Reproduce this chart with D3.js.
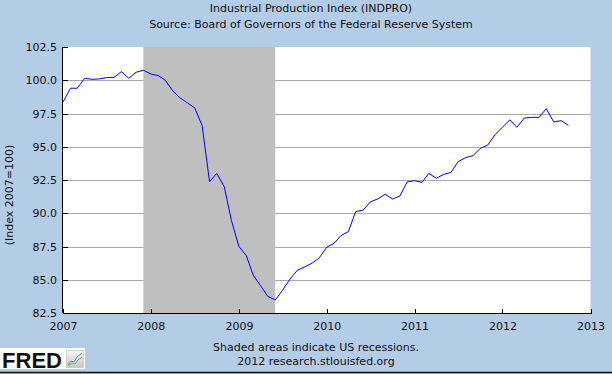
<!DOCTYPE html>
<html>
<head>
<meta charset="utf-8">
<script src="https://cdn.jsdelivr.net/npm/d3@7"></script>
<style>
  html, body { margin: 0; padding: 0; background: #b4cde6; }
  svg { display: block; }
  text { font-family: "DejaVu Sans", Verdana, sans-serif; fill: #111; }
</style>
</head>
<body>
<div id="chart"></div>
<script>
// Industrial Production Index, monthly, starting Jan 2007 (index 2007=100)
var firstMonth = "2007-01-01";
var indpro = [
  // 2007
  98.35, 99.4, 99.4, 100.15, 100.07, 100.1, 100.2, 100.22, 100.65, 100.15, 100.6, 100.75,
  // 2008
  100.47, 100.35, 100.0, 99.2, 98.68, 98.3, 97.93, 96.6, 92.37, 93.0, 92.0, 89.45,
  // 2009
  87.5, 86.8, 85.36, 84.55, 83.75, 83.48, 84.2, 85.05, 85.72, 85.97, 86.25, 86.65,
  // 2010
  87.45, 87.75, 88.32, 88.62, 90.12, 90.23, 90.85, 91.08, 91.43, 91.07, 91.3, 92.35,
  // 2011
  92.45, 92.32, 93.0, 92.63, 92.92, 93.07, 93.88, 94.18, 94.33, 94.88, 95.13, 95.9,
  // 2012
  96.47, 97.02, 96.46, 97.16, 97.21, 97.21, 97.86, 96.87, 96.96, 96.62
];
var recessions = [["2007-12-01", "2009-06-01"]];
var yTicks = [82.5, 85.0, 87.5, 90.0, 92.5, 95.0, 97.5, 100.0, 102.5];
var xYears = [2007, 2008, 2009, 2010, 2011, 2012, 2013];
var titleLines = ["Industrial Production Index (INDPRO)", "Source: Board of Governors of the Federal Reserve System"];
var yLabel = "(Index 2007=100)";
var footLines = ["Shaded areas indicate US recessions.", "2012 research.stlouisfed.org"];

var W = 612, H = 374;
var plot = {left: 63, right: 590.5, top: 47, bottom: 313};
var fontSize = "11px";

var parse = d3.timeParse("%Y-%m-%d");
var start = parse(firstMonth);
var series = indpro.map(function(v, i) {
  return {date: d3.timeMonth.offset(start, i), value: v};
});

var x = d3.scaleTime()
  .domain([new Date(xYears[0], 0, 1), new Date(xYears[xYears.length - 1], 0, 1)])
  .range([plot.left, plot.right]);
var y = d3.scaleLinear()
  .domain([yTicks[0], yTicks[yTicks.length - 1]])
  .range([plot.bottom, plot.top]);

var svg = d3.select("#chart").append("svg")
  .attr("width", W).attr("height", H);

svg.append("rect").attr("width", W).attr("height", H).attr("fill", "#b4cde6");

// titles
svg.selectAll("text.title").data(titleLines).enter().append("text")
  .attr("class", "title")
  .attr("x", 311).attr("y", function(d, i) { return 12 + i * 16; })
  .attr("text-anchor", "middle")
  .style("font-size", fontSize)
  .text(function(d) { return d; });

// plot background
svg.append("rect")
  .attr("x", plot.left).attr("y", plot.top)
  .attr("width", plot.right - plot.left).attr("height", plot.bottom - plot.top)
  .attr("fill", "#fff");

// gridlines
svg.append("g").selectAll("line").data(yTicks.slice(1, -1)).enter().append("line")
  .attr("x1", plot.left).attr("x2", plot.right)
  .attr("y1", function(d) { return Math.round(y(d)) + 0.5; })
  .attr("y2", function(d) { return Math.round(y(d)) + 0.5; })
  .attr("stroke", "#a8a8a8").attr("stroke-width", 1)
  .attr("shape-rendering", "crispEdges");

// recession shading
svg.append("g").selectAll("rect").data(recessions).enter().append("rect")
  .attr("x", function(d) { return x(parse(d[0])); })
  .attr("width", function(d) { return x(parse(d[1])) - x(parse(d[0])); })
  .attr("y", plot.top).attr("height", plot.bottom - plot.top)
  .attr("fill", "#bfbfbf");

// series line
var line = d3.line()
  .x(function(d) { return x(d.date); })
  .y(function(d) { return y(d.value); });

svg.append("path")
  .datum(series)
  .attr("d", line)
  .attr("fill", "none")
  .attr("stroke", "#0000ff")
  .attr("stroke-width", 1);

// axes
var yAxis = d3.axisLeft(y).tickValues(yTicks).tickSize(-5).tickPadding(5.5)
  .tickFormat(d3.format(".1f"));
var gy = svg.append("g")
  .attr("transform", "translate(" + (plot.left - 0.5) + ",0)")
  .call(yAxis);

var xAxis = d3.axisBottom(x)
  .tickValues(xYears.map(function(yr) { return new Date(yr, 0, 1); }))
  .tickSize(-5).tickPadding(9)
  .tickFormat(d3.timeFormat("%Y"));
var gx = svg.append("g")
  .attr("transform", "translate(0," + (plot.bottom + 0.5) + ")")
  .call(xAxis);

[gx, gy].forEach(function(g) {
  g.select(".domain").attr("stroke", "#000").attr("shape-rendering", "crispEdges");
  g.selectAll(".tick line").attr("stroke", "#000").attr("shape-rendering", "crispEdges");
  g.selectAll(".tick text")
    .style("font-family", "'DejaVu Sans', Verdana, sans-serif")
    .style("font-size", fontSize).attr("fill", "#111");
});
// drop the outer tick stubs of the domain paths
gx.select(".domain").attr("d", "M" + plot.left + ",0H" + plot.right);
gy.select(".domain").attr("d", "M0," + plot.bottom + "V" + plot.top);

// y-axis title
svg.append("text")
  .attr("transform", "translate(12.5,195) rotate(-90)")
  .attr("text-anchor", "middle")
  .style("font-size", fontSize)
  .text(yLabel);

// footer
svg.selectAll("text.foot").data(footLines).enter().append("text")
  .attr("class", "foot")
  .attr("x", 316).attr("y", function(d, i) { return 351 + i * 14; })
  .attr("text-anchor", "middle")
  .style("font-size", fontSize)
  .text(function(d) { return d; });

// FRED logo
var logo = svg.append("g");
logo.append("rect").attr("x", 0).attr("y", 348).attr("width", 85).attr("height", 21).attr("fill", "#fff");
logo.append("text")
  .attr("x", 2).attr("y", 367.5)
  .style("font-family", "'Liberation Sans', Arial, sans-serif")
  .style("font-weight", "bold").style("font-size", "22px")
  .attr("fill", "#111")
  .attr("textLength", 60)
  .text("FRED");
var grad = svg.append("defs").append("linearGradient").attr("id", "lg")
  .attr("x1", 0).attr("y1", 0).attr("x2", 0).attr("y2", 1);
grad.append("stop").attr("offset", 0).attr("stop-color", "#f4f4f4");
grad.append("stop").attr("offset", 1).attr("stop-color", "#c8c8c8");
logo.append("rect").attr("x", 66.5).attr("y", 350.5).attr("width", 17).attr("height", 17)
  .attr("fill", "url(#lg)").attr("stroke", "#bbb").attr("stroke-width", 0.6);
logo.append("polyline").attr("points", "68,365 71,361 74,362 77,357 82,353")
  .attr("fill", "none").attr("stroke", "#5a8fd0").attr("stroke-width", 1);
logo.append("polyline").attr("points", "68,366 72,363 75,364 78,360 82,357")
  .attr("fill", "none").attr("stroke", "#79b84a").attr("stroke-width", 1);

// bottom border
svg.append("line").attr("x1", 0).attr("x2", W).attr("y1", 372.5).attr("y2", 372.5)
  .attr("stroke", "#111").attr("stroke-width", 1.5);
</script>
</body>
</html>
